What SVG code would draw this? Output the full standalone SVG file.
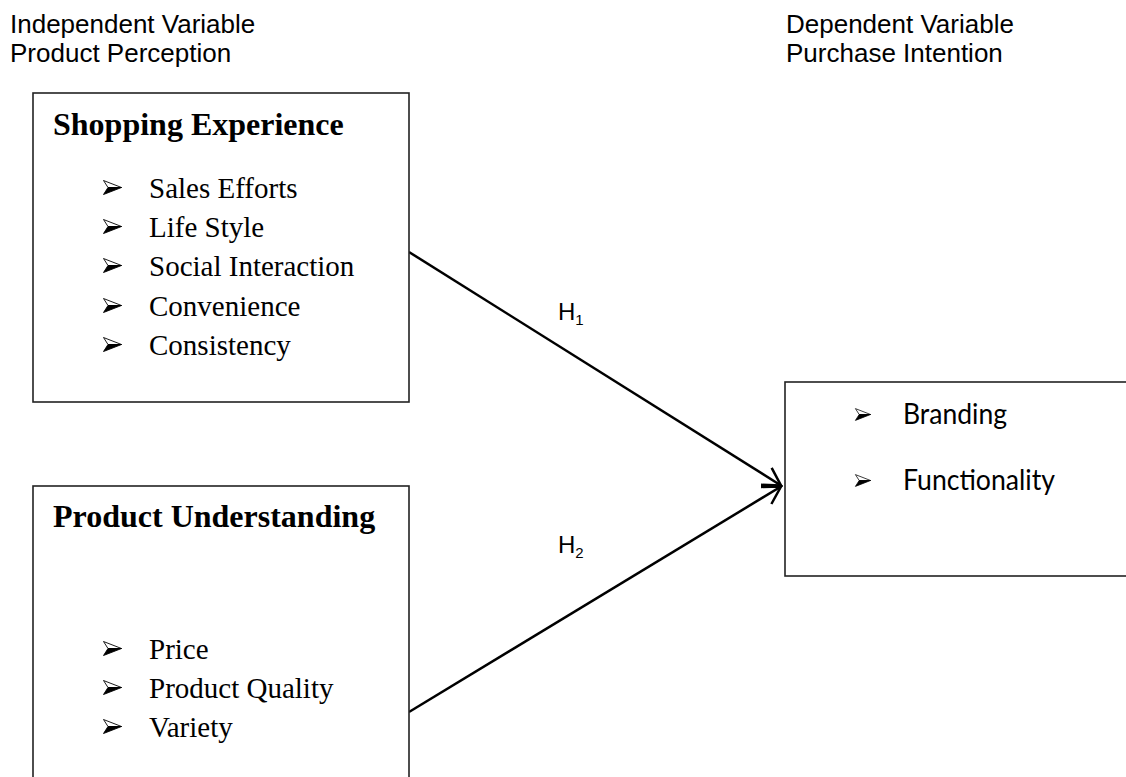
<svg xmlns="http://www.w3.org/2000/svg" xmlns:xlink="http://www.w3.org/1999/xlink" width="1126" height="777" viewBox="0 0 1126 777">
  <style>
    .hdr { font-family: "Liberation Sans", Arial, sans-serif; font-size: 26px; fill: #000; }
    .title { font-family: "Liberation Serif", "Times New Roman", serif; font-size: 32px; font-weight: bold; fill: #000; }
    .item { font-family: "Liberation Serif", "Times New Roman", serif; font-size: 29px; fill: #000; }
    .item2 { font-family: Lato, "Liberation Sans", sans-serif; font-size: 28px; fill: #000; }
    .hyp { font-family: "Liberation Sans", Arial, sans-serif; font-size: 24px; fill: #000; }
    .box { fill: #fff; stroke: #222; stroke-width: 1.6; }
    .conn { fill: none; stroke: #000; stroke-width: 2.5; }
  </style>
  <defs>
    <symbol id="bullet" viewBox="0 0 19 15" overflow="visible">
      <path d="M0.5,0.5 L18.5,7.5 L5,7.5 Z" fill="#fff" stroke="#000" stroke-width="0.9" stroke-linejoin="round"/>
      <path d="M0.5,14.5 L18.5,7.5 L5,7.5 Z" fill="#000" stroke="#000" stroke-width="0.9" stroke-linejoin="round"/>
    </symbol>
    <marker id="openArrow" markerUnits="userSpaceOnUse" viewBox="-30 -15 34 30" markerWidth="34" markerHeight="30" refX="0" refY="0" orient="auto" overflow="visible">
      <path d="M-17.3,-10 L0,0 L-17.3,10" fill="none" stroke="#000" stroke-width="2.5" stroke-linejoin="miter"/>
    </marker>
  </defs>
  <rect width="1126" height="777" fill="#fff"/>

  <g id="header-independent">
    <text class="hdr" x="10" y="33">Independent Variable</text>
    <text class="hdr" x="10" y="62">Product Perception</text>
  </g>
  <g id="header-dependent">
    <text class="hdr" x="786" y="33">Dependent Variable</text>
    <text class="hdr" x="786" y="62">Purchase Intention</text>
  </g>

  <g id="connectors">
    <line class="conn" x1="409" y1="252" x2="781" y2="485.5" marker-end="url(#openArrow)"/>
    <line class="conn" x1="409" y1="712" x2="781" y2="486.5" marker-end="url(#openArrow)"/>
    <text class="hyp" x="558" y="320">H<tspan font-size="15" dy="5">1</tspan></text>
    <text class="hyp" x="558" y="553">H<tspan font-size="15" dy="5">2</tspan></text>
  </g>

  <g id="node-shopping-experience">
    <rect class="box" x="33" y="93" width="376" height="309"/>
    <text class="title" x="53" y="135">Shopping Experience</text>
    <use xlink:href="#bullet" x="103" y="180" width="19" height="15"/>
    <text class="item" x="149" y="198">Sales Efforts</text>
    <use xlink:href="#bullet" x="103" y="219" width="19" height="15"/>
    <text class="item" x="149" y="237">Life Style</text>
    <use xlink:href="#bullet" x="103" y="258" width="19" height="15"/>
    <text class="item" x="149" y="276">Social Interaction</text>
    <use xlink:href="#bullet" x="103" y="298" width="19" height="15"/>
    <text class="item" x="149" y="316">Convenience</text>
    <use xlink:href="#bullet" x="103" y="337" width="19" height="15"/>
    <text class="item" x="149" y="355">Consistency</text>
  </g>

  <g id="node-product-understanding">
    <rect class="box" x="33" y="486" width="376" height="320"/>
    <text class="title" x="53" y="527">Product Understanding</text>
    <use xlink:href="#bullet" x="103" y="641" width="19" height="15"/>
    <text class="item" x="149" y="659">Price</text>
    <use xlink:href="#bullet" x="103" y="680" width="19" height="15"/>
    <text class="item" x="149" y="698">Product Quality</text>
    <use xlink:href="#bullet" x="103" y="719" width="19" height="15"/>
    <text class="item" x="149" y="737">Variety</text>
  </g>

  <g id="node-purchase-intention">
    <rect class="box" x="785" y="382" width="360" height="194"/>
    <use xlink:href="#bullet" x="855" y="408" width="16" height="13"/>
    <text class="item2" x="903" y="424" textLength="104" lengthAdjust="spacingAndGlyphs">Branding</text>
    <use xlink:href="#bullet" x="855" y="474" width="16" height="13"/>
    <text class="item2" x="903" y="490" textLength="152" lengthAdjust="spacingAndGlyphs">Functionality</text>
  </g>
</svg>
